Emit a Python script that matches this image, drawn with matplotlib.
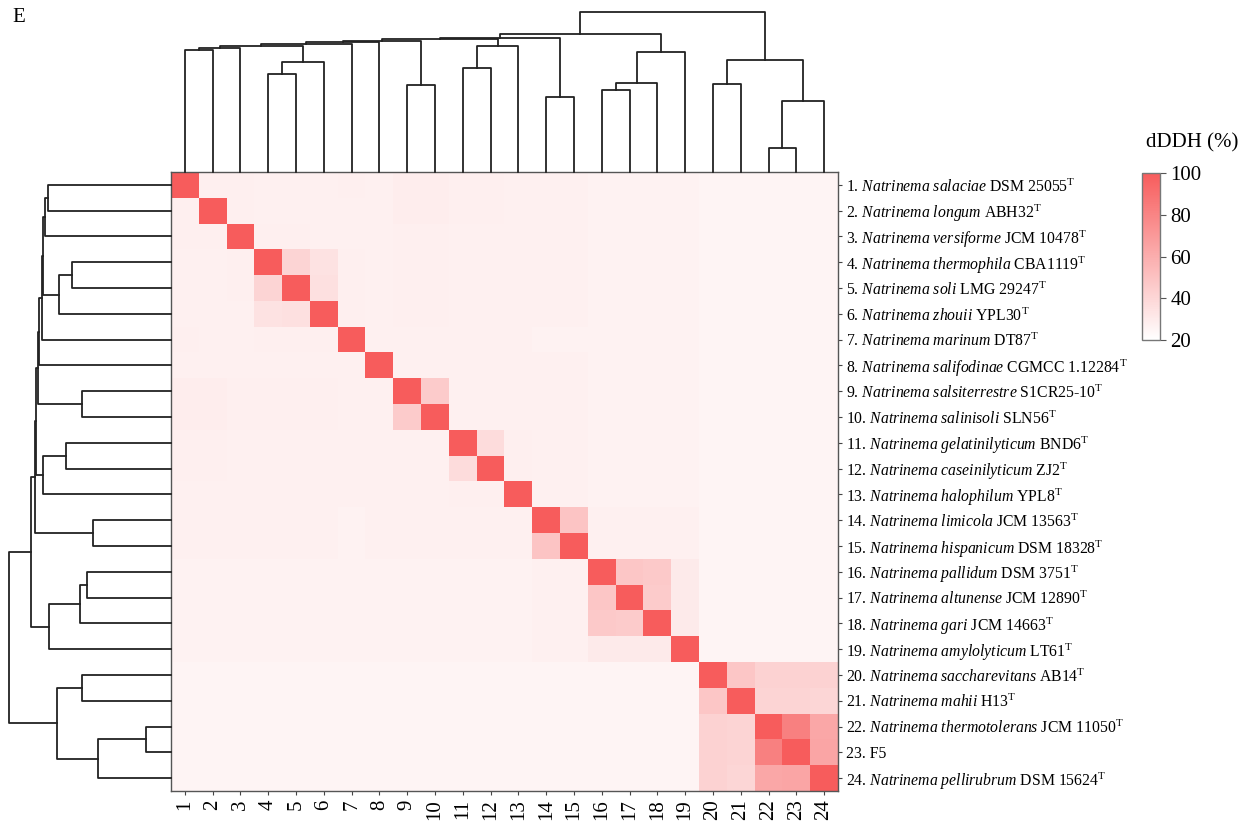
import numpy as np
import matplotlib
matplotlib.use("Agg")
import matplotlib.pyplot as plt
from matplotlib.colors import LinearSegmentedColormap

plt.rcParams['font.family'] = ['Liberation Serif', 'DejaVu Serif']
plt.rcParams['mathtext.fontset'] = 'custom'
plt.rcParams['mathtext.rm'] = 'Liberation Serif'
plt.rcParams['mathtext.it'] = 'Liberation Serif:italic'

# ---- labels ----
species = ["salaciae", "longum", "versiforme", "thermophila", "soli", "zhouii",
           "marinum", "salifodinae", "salsiterrestre", "salinisoli",
           "gelatinilyticum", "caseinilyticum", "halophilum", "limicola",
           "hispanicum", "pallidum", "altunense", "gari", "amylolyticum",
           "saccharevitans", "mahii", "thermotolerans", None, "pellirubrum"]
strains = ["DSM 25055", "ABH32", "JCM 10478", "CBA1119", "LMG 29247", "YPL30",
           "DT87", "CGMCC 1.12284", "S1CR25-10", "SLN56", "BND6", "ZJ2", "YPL8",
           "JCM 13563", "DSM 18328", "DSM 3751", "JCM 12890", "JCM 14663", "LT61",
           "AB14", "H13", "JCM 11050", "F5", "DSM 15624"]

# ---- dDDH matrix (%) ----
ddh = np.array([
    [100, 28, 28, 27, 27, 27, 28, 27, 29, 29, 28, 28, 27, 27, 27, 26, 26, 26, 26, 25, 25, 25, 25, 25],
    [28, 100, 28, 27, 27, 27, 27, 27, 29, 29, 28, 28, 27, 27, 27, 26, 26, 26, 26, 25, 25, 25, 25, 25],
    [28, 28, 100, 28, 28, 27, 27, 27, 28, 28, 27, 27, 27, 27, 27, 26, 26, 26, 26, 25, 25, 25, 25, 25],
    [27, 27, 28, 100, 41, 34, 28, 27, 28, 28, 27, 27, 27, 27, 27, 26, 26, 26, 26, 25, 25, 25, 25, 25],
    [27, 27, 28, 41, 100, 35, 28, 27, 28, 28, 27, 27, 27, 27, 27, 26, 26, 26, 26, 25, 25, 25, 25, 25],
    [27, 27, 27, 34, 35, 100, 28, 27, 28, 28, 27, 27, 27, 27, 27, 26, 26, 26, 26, 25, 25, 25, 25, 25],
    [28, 27, 27, 28, 28, 28, 100, 27, 27, 27, 27, 27, 27, 26, 26, 26, 26, 26, 26, 25, 25, 25, 25, 25],
    [27, 27, 27, 27, 27, 27, 27, 100, 27, 27, 27, 27, 27, 27, 27, 26, 26, 26, 26, 25, 25, 25, 25, 25],
    [29, 29, 28, 28, 28, 28, 27, 27, 100, 45, 27, 27, 27, 27, 27, 26, 26, 26, 26, 25, 25, 25, 25, 25],
    [29, 29, 28, 28, 28, 28, 27, 27, 45, 100, 27, 27, 27, 27, 27, 26, 26, 26, 26, 25, 25, 25, 25, 25],
    [28, 28, 27, 27, 27, 27, 27, 27, 27, 27, 100, 37, 28, 27, 27, 26, 26, 26, 26, 25, 25, 25, 25, 25],
    [28, 28, 27, 27, 27, 27, 27, 27, 27, 27, 37, 100, 28, 27, 27, 26, 26, 26, 26, 25, 25, 25, 25, 25],
    [27, 27, 27, 27, 27, 27, 27, 27, 27, 27, 28, 28, 100, 27, 27, 26, 26, 26, 26, 25, 25, 25, 25, 25],
    [27, 27, 27, 27, 27, 27, 26, 27, 27, 27, 27, 27, 27, 100, 49, 27, 27, 27, 27, 25, 25, 25, 25, 25],
    [27, 27, 27, 27, 27, 27, 26, 27, 27, 27, 27, 27, 27, 49, 100, 27, 27, 27, 27, 25, 25, 25, 25, 25],
    [26, 26, 26, 26, 26, 26, 26, 26, 26, 26, 26, 26, 26, 27, 27, 100, 48, 46, 30, 25, 25, 25, 25, 25],
    [26, 26, 26, 26, 26, 26, 26, 26, 26, 26, 26, 26, 26, 27, 27, 48, 100, 45, 30, 25, 25, 25, 25, 25],
    [26, 26, 26, 26, 26, 26, 26, 26, 26, 26, 26, 26, 26, 27, 27, 46, 45, 100, 30, 25, 25, 25, 25, 25],
    [26, 26, 26, 26, 26, 26, 26, 26, 26, 26, 26, 26, 26, 27, 27, 30, 30, 30, 100, 25, 25, 25, 25, 25],
    [25, 25, 25, 25, 25, 25, 25, 25, 25, 25, 25, 25, 25, 25, 25, 25, 25, 25, 25, 100, 48, 42, 42, 42],
    [25, 25, 25, 25, 25, 25, 25, 25, 25, 25, 25, 25, 25, 25, 25, 25, 25, 25, 25, 48, 100, 41, 41, 40],
    [25, 25, 25, 25, 25, 25, 25, 25, 25, 25, 25, 25, 25, 25, 25, 25, 25, 25, 25, 42, 41, 100, 82, 63],
    [25, 25, 25, 25, 25, 25, 25, 25, 25, 25, 25, 25, 25, 25, 25, 25, 25, 25, 25, 42, 41, 82, 100, 64],
    [25, 25, 25, 25, 25, 25, 25, 25, 25, 25, 25, 25, 25, 25, 25, 25, 25, 25, 25, 42, 40, 63, 64, 100],
])

# ---- linkage: (child a, child b, distance); leaves 0..23, clusters 24.. ----
col_links = [(0, 1, 122), (24, 2, 124), (3, 4, 98), (26, 5, 110), (25, 27, 126),
             (28, 6, 128.5), (29, 7, 130), (8, 9, 87), (30, 31, 131.5),
             (10, 11, 104), (33, 12, 126), (32, 34, 133.5), (13, 14, 75),
             (35, 36, 134.5), (15, 16, 82), (38, 17, 88.7), (39, 18, 120),
             (37, 40, 138), (19, 20, 87.7), (21, 22, 23.7), (43, 23, 71.3),
             (42, 44, 112), (41, 45, 160)]
row_links = [(0, 1, 123), (24, 2, 126), (3, 4, 99), (26, 5, 112), (25, 27, 128),
             (28, 6, 129), (29, 7, 132), (8, 9, 89), (30, 31, 133),
             (10, 11, 105), (33, 12, 128), (32, 34, 135), (13, 14, 78),
             (35, 36, 136), (15, 16, 84), (38, 17, 91), (39, 18, 122),
             (37, 40, 140), (19, 20, 89), (21, 22, 25), (43, 23, 73),
             (42, 44, 114), (41, 45, 162)]

n = len(strains)


def draw_dendro(ax, links, top=True):
    centers = {i: i + 0.5 for i in range(n)}
    heights = {i: 0.0 for i in range(n)}
    for k, (a, b, h) in enumerate(links):
        xs = [centers[a], centers[a], centers[b], centers[b]]
        ys = [heights[a], h, h, heights[b]]
        if top:
            ax.plot(xs, ys, color='#222222', lw=1.3, clip_on=False)
        else:
            ax.plot(ys, xs, color='#222222', lw=1.3, clip_on=False)
        centers[n + k] = (centers[a] + centers[b]) / 2
        heights[n + k] = h
    ax.axis('off')


W, H = 1255, 823
fig = plt.figure(figsize=(W / 100, H / 100), dpi=100)

hx0, hx1, hy0, hy1 = 171, 838, 172, 791
ax = fig.add_axes([hx0 / W, 1 - hy1 / H, (hx1 - hx0) / W, (hy1 - hy0) / H])
cmap = LinearSegmentedColormap.from_list('ddh', ['#ffffff', '#f75c5c'])
im = ax.imshow(ddh, cmap=cmap, vmin=20, vmax=100, aspect='auto',
               interpolation='nearest', extent=(0, n, n, 0))
ax.set_xticks(np.arange(n) + 0.5)
ax.set_xticklabels([str(i + 1) for i in range(n)], rotation=90, fontsize=15)
ax.set_yticks(np.arange(n) + 0.5)
ylabels = []
for i in range(n):
    if species[i] is None:
        ylabels.append(f"{i + 1}. {strains[i]}")
    else:
        ylabels.append(f"{i + 1}. $\\mathit{{Natrinema\\ {species[i]}}}$ "
                       f"{strains[i]}$^{{\\mathrm{{T}}}}$")
ax.set_yticklabels(ylabels, fontsize=11.3)
ax.yaxis.tick_right()
ax.tick_params(axis='both', length=3, width=0.8, color='#444444', pad=3)
for s in ax.spines.values():
    s.set_color('#555555')
    s.set_linewidth(1.0)

# column dendrogram
axt = fig.add_axes([hx0 / W, 1 - hy0 / H, (hx1 - hx0) / W, (hy0 - 10) / H])
draw_dendro(axt, col_links, top=True)
axt.set_xlim(0, n)
axt.set_ylim(0, hy0 - 10)

# row dendrogram
axl = fig.add_axes([0, 1 - hy1 / H, hx0 / W, (hy1 - hy0) / H])
draw_dendro(axl, row_links, top=False)
axl.set_xlim(hx0, 0)
axl.set_ylim(n, 0)

# colour bar
cax = fig.add_axes([1142 / W, 1 - 340 / H, 18 / W, 167 / H])
cb = fig.colorbar(im, cax=cax, ticks=[20, 40, 60, 80, 100])
cb.outline.set_edgecolor('#777777')
cb.outline.set_linewidth(1.0)
cax.tick_params(labelsize=15, length=4, width=0.8, color='#555555')
fig.text(1192 / W, 1 - 143 / H, 'dDDH (%)', fontsize=15, ha='center', va='center')

fig.text(12 / W, 1 - 18 / H, 'E', fontsize=15, ha='left', va='center')

fig.savefig('out.png', dpi=100)
